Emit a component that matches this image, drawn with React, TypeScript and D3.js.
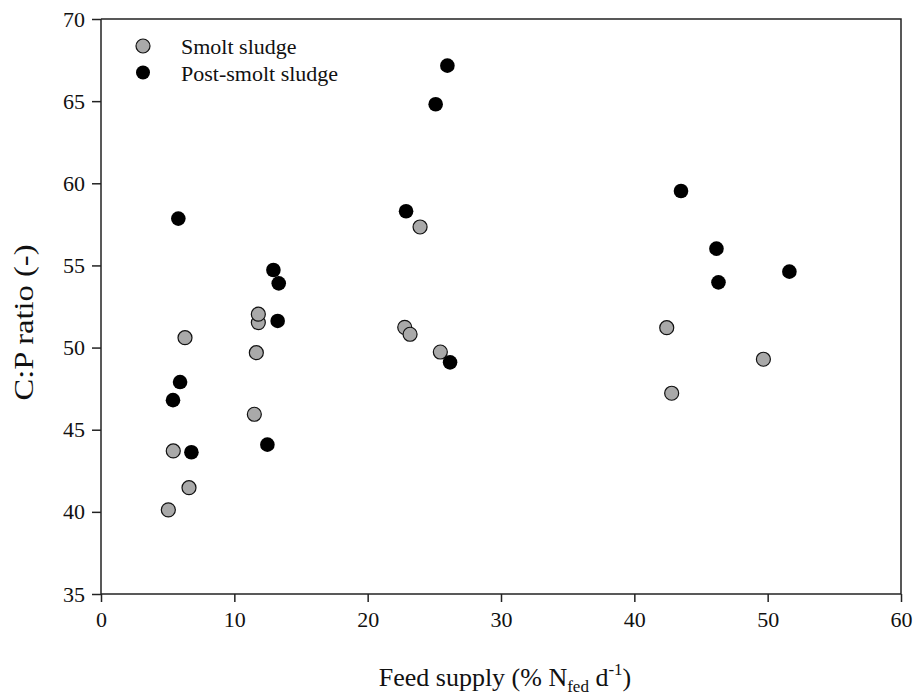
import React from 'react';
import * as d3 from 'd3';

// Smolt sludge (grey)
const smoltX = [5.05, 5.42, 6.6, 6.3, 11.5, 11.65, 11.8, 11.8, 22.78, 23.18, 23.93, 25.45, 42.43, 42.8, 49.68];
const smoltY = [40.12, 43.71, 41.47, 50.6, 45.94, 49.69, 51.52, 52.03, 51.23, 50.81, 57.34, 49.73, 51.21, 47.22, 49.29];

// Post-smolt sludge (black)
const postX = [5.93, 5.4, 6.78, 5.8, 12.48, 12.93, 13.33, 13.25, 22.88, 25.1, 25.98, 26.18, 43.5, 46.16, 46.31, 51.63];
const postY = [47.9, 46.8, 43.63, 57.85, 44.09, 54.72, 53.91, 51.62, 58.3, 64.81, 67.16, 49.1, 59.53, 56.02, 53.97, 54.62];

const xTicks = [0, 10, 20, 30, 40, 50, 60];
const yTicks = [35, 40, 45, 50, 55, 60, 65, 70];

const legendItems = ['Smolt sludge', 'Post-smolt sludge'];

const W = 917;
const H = 696;
const margin = { top: 19, right: 16, bottom: 102, left: 101 };
const font = 'Liberation Serif, Times New Roman, serif';

const plotScatter = (ref) => {
    const width = W - margin.left - margin.right;
    const height = H - margin.top - margin.bottom;

    const root = d3.select(ref.current);
    root.selectAll('*').remove();
    const svg = root.append('g')
        .attr('font-family', font)
        .attr('transform', 'translate(' + margin.left + ',' + margin.top + ')');

    const x = d3.scaleLinear().domain([0, 60]).range([0, width]);
    const y = d3.scaleLinear().domain([35, 70]).range([height, 0]);

    // frame (top and right)
    svg.append('path')
        .attr('d', `M0,0H${width}V${height}`)
        .attr('fill', 'none')
        .attr('stroke', '#222')
        .attr('stroke-width', 1.5);

    const xAxis = svg.append('g')
        .attr('transform', 'translate(0,' + height + ')')
        .call(d3.axisBottom(x).tickValues(xTicks).tickSize(8).tickPadding(9));

    const yAxis = svg.append('g')
        .call(d3.axisLeft(y).tickValues(yTicks).tickSize(9).tickPadding(7));

    [xAxis, yAxis].forEach(a => {
        a.attr('font-family', font).attr('font-size', 22);
        a.selectAll('path, line').attr('stroke', '#222').attr('stroke-width', 1.5);
        a.select('.domain').attr('d', a === xAxis ? `M0,0H${width}` : `M0,${height}V0`);
        a.selectAll('text').attr('fill', '#111');
    });

    const smolt = smoltX.map((v, i) => ({ x: v, y: smoltY[i] }));
    const post = postX.map((v, i) => ({ x: v, y: postY[i] }));

    svg.append('g').selectAll('circle')
        .data(smolt)
        .enter().append('circle')
        .attr('cx', d => x(d.x))
        .attr('cy', d => y(d.y))
        .attr('r', 7)
        .attr('fill', '#a9a9a9')
        .attr('stroke', '#111')
        .attr('stroke-width', 1.2);

    svg.append('g').selectAll('circle')
        .data(post)
        .enter().append('circle')
        .attr('cx', d => x(d.x))
        .attr('cy', d => y(d.y))
        .attr('r', 7.3)
        .attr('fill', '#000');

    // legend
    legendItems.forEach((k, i) => {
        svg.append('circle')
            .attr('cx', 42)
            .attr('cy', 27 + i * 26.5)
            .attr('r', 7)
            .attr('fill', i === 0 ? '#a9a9a9' : '#000')
            .attr('stroke', '#111')
            .attr('stroke-width', i === 0 ? 1.2 : 0);
        svg.append('text')
            .attr('x', 80)
            .attr('y', 35 + i * 26.5)
            .attr('font-size', 22)
            .attr('fill', '#111')
            .text(k);
    });

    // axis titles
    const xt = svg.append('text')
        .attr('x', width / 2 + 4)
        .attr('y', height + 92)
        .attr('text-anchor', 'middle')
        .attr('font-size', 26)
        .attr('fill', '#111');
    xt.append('tspan').text('Feed supply (% N');
    xt.append('tspan').attr('dy', 6).attr('font-size', 17).text('fed');
    xt.append('tspan').attr('dy', -6).text(' d');
    xt.append('tspan').attr('dy', -11).attr('font-size', 17).text('-1');
    xt.append('tspan').attr('dy', 11).text(')');

    svg.append('text')
        .attr('transform', `translate(${-68},${height / 2 + 16}) rotate(-90)`)
        .attr('text-anchor', 'middle')
        .attr('font-size', 28)
        .attr('textLength', 156)
        .attr('lengthAdjust', 'spacingAndGlyphs')
        .attr('fill', '#111')
        .text('C:P ratio (-)');
};

export default function App() {
    const ref = React.useRef(null);

    React.useEffect(() => {
        plotScatter(ref);
    }, []);

    return (
        <div style={{ position: 'absolute', left: 0, top: 0, background: '#fff' }}>
            <svg ref={ref} width={W} height={H} style={{ display: 'block' }} />
        </div>
    );
}
